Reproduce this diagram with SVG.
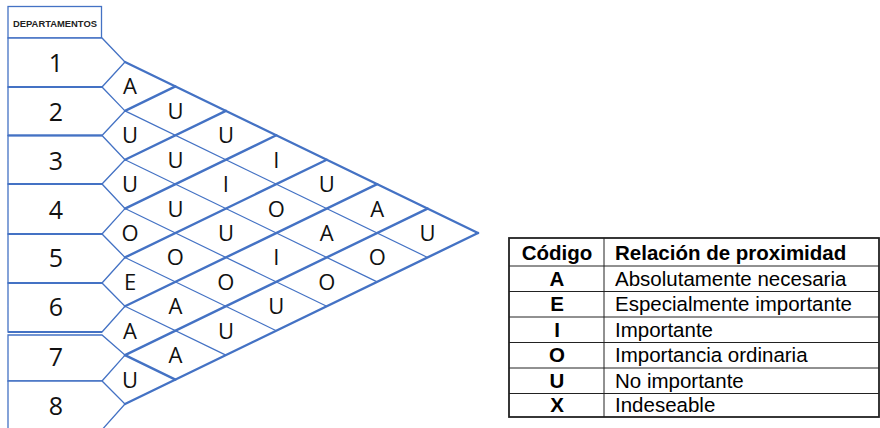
<svg xmlns="http://www.w3.org/2000/svg" width="880" height="428" viewBox="0 0 880 428">
  <style>
    .box { fill: #ffffff; stroke: #4472C4; stroke-width: 1.3; }
    .sep { stroke: #4472C4; stroke-width: 2.2; }
    .thick { stroke: #4472C4; stroke-width: 2.4; fill: none; stroke-linecap: round; }
    .thin { stroke: #4472C4; stroke-width: 1.2; fill: none; }
    .num { font-family: "Open Sans", "Noto Sans", sans-serif; font-size: 25px; fill: #111; text-anchor: middle; }
    .code { font-family: "Open Sans", "Noto Sans", sans-serif; font-size: 22px; fill: #111; text-anchor: middle; }
    .hdr { font-family: "Liberation Sans", Arial, sans-serif; font-size: 9px; font-weight: bold; fill: #222; text-anchor: middle; }
    .tb { font-family: "Liberation Sans", Arial, sans-serif; font-size: 20.5px; fill: #000; }
    .tbb { font-weight: bold; }
    .c { text-anchor: middle; }
    .outer { fill: none; stroke: #222; stroke-width: 1.8; }
    .inner { stroke: #222; stroke-width: 1; }
  </style>

  <rect width="880" height="428" fill="#ffffff"/>

  <!-- department column -->
  <g id="header">
    <rect class="box" x="8" y="6.5" width="93.5" height="31.5"/>
    <text class="hdr" x="55" y="26.5" textLength="84" lengthAdjust="spacingAndGlyphs">DEPARTAMENTOS</text>
  </g>
  <g id="dept1">
    <polygon class="box" points="8,38 102,38 125,62 102,87 8,87"/>
    <text class="num" x="56" y="72">1</text>
  </g>
  <g id="dept2">
    <polygon class="box" points="8,87 102,87 125,110.9 102,135.5 8,135.5"/>
    <text class="num" x="56" y="120.9">2</text>
  </g>
  <g id="dept3">
    <polygon class="box" points="8,135.5 102,135.5 125,159.7 102,184 8,184"/>
    <text class="num" x="56" y="169.7">3</text>
  </g>
  <g id="dept4">
    <polygon class="box" points="8,184 102,184 125,208.6 102,234 8,234"/>
    <text class="num" x="56" y="218.6">4</text>
  </g>
  <g id="dept5">
    <polygon class="box" points="8,234 102,234 125,257.4 102,283 8,283"/>
    <text class="num" x="56" y="267.4">5</text>
  </g>
  <g id="dept6">
    <polygon class="box" points="8,283 102,283 125,306.3 102,332 8,332"/>
    <text class="num" x="56" y="316.3">6</text>
  </g>
  <g id="dept7">
    <polygon class="box" points="8,335 102,335 125,355.1 102,381 8,381"/>
    <text class="num" x="56" y="366">7</text>
  </g>
  <g id="dept8">
    <polygon class="box" points="8,381 102,381 125,404 100,432 8,432"/>
    <text class="num" x="56" y="415">8</text>
  </g>

  <!-- heavier separators between rows -->
  <g id="separators">
    <line class="sep" x1="8" y1="87" x2="102" y2="87"/>
    <line class="sep" x1="8" y1="135.5" x2="102" y2="135.5"/>
    <line class="sep" x1="8" y1="184" x2="102" y2="184"/>
    <line class="sep" x1="8" y1="234" x2="102" y2="234"/>
    <line class="sep" x1="8" y1="283" x2="102" y2="283"/>
    <line class="sep" x1="8" y1="332" x2="102" y2="332"/>
  </g>

  <!-- relationship lattice -->
  <g id="connectors">
    <!-- rising lines -->
    <line class="thick" x1="125" y1="110.86" x2="175.43" y2="86.43"/>
    <line class="thick" x1="125" y1="159.71" x2="225.86" y2="110.86"/>
    <line class="thick" x1="125" y1="208.57" x2="276.29" y2="135.29"/>
    <line class="thick" x1="125" y1="257.43" x2="326.72" y2="159.71"/>
    <line class="thick" x1="125" y1="306.29" x2="377.15" y2="184.14"/>
    <line class="thick" x1="125" y1="355.14" x2="427.58" y2="208.57"/>
    <line class="thick" x1="125" y1="404" x2="478" y2="233"/>
    <!-- falling lines -->
    <line class="thick" x1="125" y1="62" x2="478" y2="233"/>
    <line class="thin" x1="125" y1="110.86" x2="427.58" y2="257.43"/>
    <line class="thin" x1="125" y1="159.71" x2="377.15" y2="281.86"/>
    <line class="thin" x1="125" y1="208.57" x2="326.72" y2="306.29"/>
    <line class="thin" x1="125" y1="257.43" x2="276.29" y2="330.71"/>
    <line class="thin" x1="125" y1="306.29" x2="225.86" y2="355.14"/>
    <line class="thick" x1="125" y1="355.14" x2="175.43" y2="379.57"/>
  </g>

  <!-- relationship codes -->
  <g id="codes">
    <text class="code" x="130" y="94.4">A</text>
    <text class="code" x="130" y="143.3">U</text>
    <text class="code" x="130" y="192.1">U</text>
    <text class="code" x="130" y="241">O</text>
    <text class="code" x="130" y="289.9">E</text>
    <text class="code" x="130" y="338.7">A</text>
    <text class="code" x="130" y="387.6">U</text>

    <text class="code" x="175.4" y="118.9">U</text>
    <text class="code" x="175.4" y="167.7">U</text>
    <text class="code" x="175.4" y="216.6">U</text>
    <text class="code" x="175.4" y="265.4">O</text>
    <text class="code" x="175.4" y="314.3">A</text>
    <text class="code" x="175.4" y="363.1">A</text>

    <text class="code" x="225.9" y="143.3">U</text>
    <text class="code" x="225.9" y="192.1">I</text>
    <text class="code" x="225.9" y="241">U</text>
    <text class="code" x="225.9" y="289.9">O</text>
    <text class="code" x="225.9" y="338.7">U</text>

    <text class="code" x="276.3" y="167.7">I</text>
    <text class="code" x="276.3" y="216.6">O</text>
    <text class="code" x="276.3" y="265.4">I</text>
    <text class="code" x="276.3" y="314.3">U</text>

    <text class="code" x="326.7" y="192.1">U</text>
    <text class="code" x="326.7" y="241">A</text>
    <text class="code" x="326.7" y="289.9">O</text>

    <text class="code" x="377.2" y="216.6">A</text>
    <text class="code" x="377.2" y="265.4">O</text>

    <text class="code" x="427.6" y="241">U</text>
  </g>

  <!-- legend table -->
  <g id="legend">
    <line class="inner" x1="509" y1="266" x2="879" y2="266"/>
    <line class="inner" x1="509" y1="291.5" x2="879" y2="291.5"/>
    <line class="inner" x1="509" y1="317" x2="879" y2="317"/>
    <line class="inner" x1="509" y1="342.5" x2="879" y2="342.5"/>
    <line class="inner" x1="509" y1="368" x2="879" y2="368"/>
    <line class="inner" x1="509" y1="393.5" x2="879" y2="393.5"/>
    <line class="inner" x1="604" y1="238" x2="604" y2="417"/>
    <rect class="outer" x="509" y="238" width="370" height="179"/>

    <text class="tb tbb c" x="557" y="259.5">Código</text>
    <text class="tb tbb" x="615" y="259.5">Relación de proximidad</text>

    <text class="tb tbb c" x="557" y="285.5">A</text>
    <text class="tb" x="615" y="285.5">Absolutamente necesaria</text>
    <text class="tb tbb c" x="557" y="311">E</text>
    <text class="tb" x="615" y="311">Especialmente importante</text>
    <text class="tb tbb c" x="557" y="336.5">I</text>
    <text class="tb" x="615" y="336.5">Importante</text>
    <text class="tb tbb c" x="557" y="362">O</text>
    <text class="tb" x="615" y="362">Importancia ordinaria</text>
    <text class="tb tbb c" x="557" y="387.5">U</text>
    <text class="tb" x="615" y="387.5">No importante</text>
    <text class="tb tbb c" x="557" y="412">X</text>
    <text class="tb" x="615" y="412">Indeseable</text>
  </g>
</svg>
